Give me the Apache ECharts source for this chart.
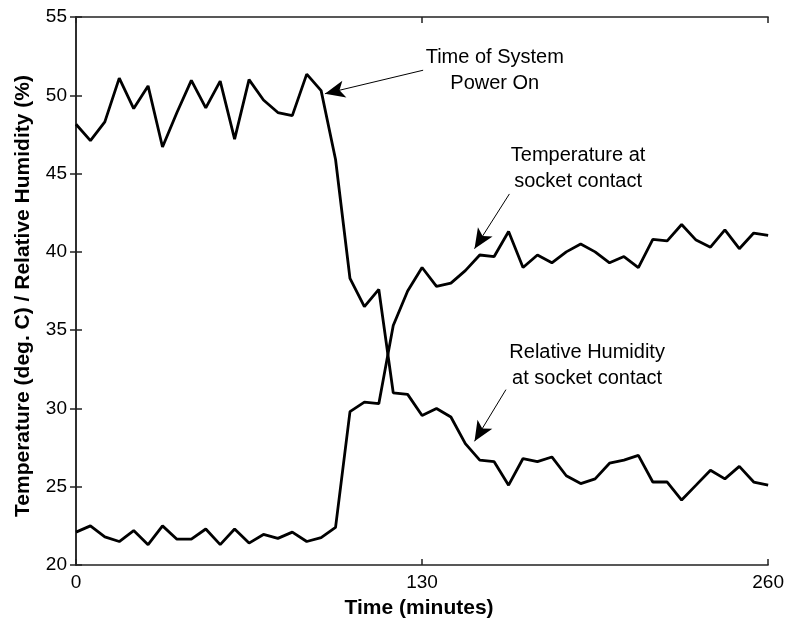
<!DOCTYPE html>
<html>
<head>
<meta charset="utf-8">
<script src="https://cdn.jsdelivr.net/npm/echarts@6/dist/echarts.min.js"></script>
<style>
html,body{margin:0;padding:0;background:#fff;}
#chart{width:787px;height:624px;}
</style>
</head>
<body>
<div id="chart"></div>
<script>
// Sample times (minutes)
var times = [0, 5.42, 10.83, 16.25, 21.67, 27.08, 32.5, 37.92, 43.33, 48.75, 54.17, 59.58, 65, 70.42, 75.83, 81.25, 86.67, 92.08, 97.5, 102.92, 108.33, 113.75, 119.17, 124.58, 130, 135.42, 140.83, 146.25, 151.67, 157.08, 162.5, 167.92, 173.33, 178.75, 184.17, 189.58, 195, 200.42, 205.83, 211.25, 216.67, 222.08, 227.5, 232.92, 238.33, 243.75, 249.17, 254.58, 260];
// Relative humidity at socket contact (%)
var humidity = [48.15, 47.1, 48.3, 51.1, 49.15, 50.6, 46.7, 48.9, 50.95, 49.2, 50.9, 47.2, 51.0, 49.7, 48.9, 48.7, 51.35, 50.3, 45.9, 38.3, 36.5, 37.6, 31.0, 30.9, 29.55, 30.0, 29.45, 27.75, 26.7, 26.6, 25.1, 26.8, 26.6, 26.9, 25.7, 25.2, 25.5, 26.5, 26.7, 27.0, 25.3, 25.3, 24.15, 25.1, 26.05, 25.5, 26.3, 25.3, 25.1];
// Temperature at socket contact (deg. C)
var temperature = [22.1, 22.5, 21.8, 21.5, 22.2, 21.3, 22.5, 21.65, 21.65, 22.3, 21.3, 22.3, 21.4, 21.95, 21.7, 22.1, 21.5, 21.75, 22.4, 29.8, 30.4, 30.3, 35.3, 37.5, 39.0, 37.8, 38.0, 38.8, 39.8, 39.7, 41.3, 39.0, 39.8, 39.3, 40.0, 40.5, 40.0, 39.3, 39.7, 39.0, 40.8, 40.7, 41.75, 40.75, 40.3, 41.4, 40.2, 41.2, 41.05];
var xTicks = [0, 130, 260];
var yTicks = [20, 25, 30, 35, 40, 45, 50, 55];

// Annotations (data coordinates)
var annoTexts = [
  {lines: ['Time of System', 'Power On'], x: 157.3, y: 51.6},
  {lines: ['Temperature at', 'socket contact'], x: 188.6, y: 45.3},
  {lines: ['Relative Humidity', 'at socket contact'], x: 192.0, y: 32.75}
];
var annoArrows = [
  {from: [130.4, 51.6], to: [93.5, 50.1]},
  {from: [162.8, 43.7], to: [149.7, 40.2]},
  {from: [161.5, 31.2], to: [149.7, 27.9]}
];

var FONT = '"Liberation Sans", Arial, Helvetica, sans-serif';
var INK = '#000';
var FRAME = '#222';

function pairs(xs, ys) { return xs.map(function (x, i) { return [x, ys[i]]; }); }

var chart = echarts.init(document.getElementById('chart'), null, {renderer: 'canvas'});

var baseAxisLine = {show: true, lineStyle: {color: FRAME, width: 1.5}};
var option = {
  backgroundColor: '#fff',
  animation: false,
  grid: {left: 76, right: 15, top: 17, bottom: 59, containLabel: false},
  xAxis: [{
    type: 'value', min: 0, max: 260, interval: 130,
    name: 'Time (minutes)', nameLocation: 'middle', nameGap: 33,
    nameTextStyle: {fontFamily: FONT, fontWeight: 'bold', fontSize: 21, color: INK, padding: [0, 6, 0, 0]},
    axisLine: baseAxisLine,
    axisTick: {show: true, inside: true, length: 6, lineStyle: {color: FRAME, width: 1.5}},
    axisLabel: {fontFamily: FONT, fontSize: 19, color: INK, margin: 8,
      formatter: function (v) { return xTicks.indexOf(v) >= 0 ? String(v) : ''; }},
    splitLine: {show: false}
  }, {
    type: 'value', position: 'top', min: 0, max: 260, interval: 130,
    axisLine: baseAxisLine,
    axisTick: {show: true, inside: true, length: 6, lineStyle: {color: FRAME, width: 1.5}},
    axisLabel: {show: false}, splitLine: {show: false}
  }],
  yAxis: [{
    type: 'value', min: 20, max: 55, interval: 5,
    name: 'Temperature (deg. C) / Relative Humidity (%)', nameLocation: 'middle', nameGap: 42,
    nameTextStyle: {fontFamily: FONT, fontWeight: 'bold', fontSize: 21, color: INK, padding: [0, 10, 0, 0]},
    axisLine: baseAxisLine,
    axisTick: {show: true, inside: true, length: 6, lineStyle: {color: FRAME, width: 1.5}},
    axisLabel: {fontFamily: FONT, fontSize: 19, color: INK, margin: 9,
      formatter: function (v) { return yTicks.indexOf(v) >= 0 ? String(v) : ''; }},
    splitLine: {show: false}
  }, {
    type: 'value', position: 'right', min: 20, max: 55, interval: 5,
    axisLine: baseAxisLine,
    axisTick: {show: true, inside: true, length: 6, lineStyle: {color: FRAME, width: 1.5}},
    axisLabel: {show: false}, splitLine: {show: false}
  }],
  series: [{
    name: 'Relative Humidity', type: 'line', xAxisIndex: 0, yAxisIndex: 0,
    data: pairs(times, humidity), showSymbol: false, symbol: 'none',
    lineStyle: {color: INK, width: 2.8}, z: 3
  }, {
    name: 'Temperature', type: 'line', xAxisIndex: 0, yAxisIndex: 0,
    data: pairs(times, temperature), showSymbol: false, symbol: 'none',
    lineStyle: {color: INK, width: 2.8}, z: 3
  }, {
    name: 'arrows', type: 'line', xAxisIndex: 0, yAxisIndex: 0, data: [],
    markLine: {
      silent: true, animation: false,
      symbol: ['none', 'arrow'], symbolSize: [13, 20],
      label: {show: false},
      lineStyle: {color: INK, width: 1, type: 'solid'},
      data: annoArrows.map(function (a) {
        return [{coord: a.from}, {coord: a.to}];
      })
    }
  }]
};
chart.setOption(option);

var graphics = [];
annoTexts.forEach(function (t) {
  var p = chart.convertToPixel({xAxisIndex: 0, yAxisIndex: 0}, [t.x, t.y]);
  graphics.push({
    type: 'text', x: p[0], y: p[1], z: 10,
    style: {text: t.lines.join('\n'), font: '20px ' + FONT, fill: INK,
      textAlign: 'center', textVerticalAlign: 'middle', lineHeight: 26}
  });
});
chart.setOption({graphic: graphics});
</script>
</body>
</html>
